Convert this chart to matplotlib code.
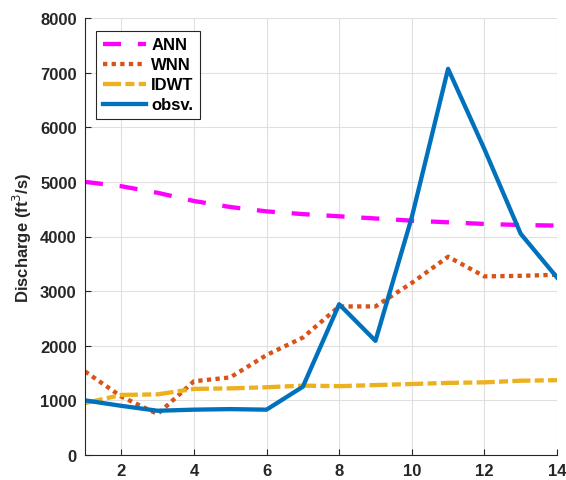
import numpy as np
import matplotlib.pyplot as plt

plt.rcParams['font.family'] = ['Liberation Sans', 'DejaVu Sans']

x = np.arange(1, 15)
ann = [5000, 4920, 4800, 4650, 4540, 4460, 4410, 4370, 4330, 4290, 4260, 4230, 4210, 4200]
wnn = [1530, 1070, 750, 1350, 1420, 1830, 2150, 2720, 2720, 3150, 3630, 3270, 3280, 3300]
idwt = [950, 1100, 1110, 1210, 1220, 1240, 1270, 1260, 1280, 1300, 1320, 1330, 1360, 1370]
obsv = [1000, 900, 810, 830, 840, 830, 1250, 2760, 2090, 4350, 7070, 5600, 4050, 3250]

fig = plt.figure(figsize=(5.66, 4.81), dpi=100)
ax = fig.add_axes([85/566, 25/481, 472/566, 437/481])

lw = 3.1
ax.plot(x, ann, color=(1, 0, 1), lw=lw, dashes=(4.2, 3.9), label='ANN')
ax.plot(x, wnn, color=(0.85, 0.325, 0.098), lw=lw, linestyle=(0, (1, 1)), label='WNN')
ax.plot(x, idwt, color=(0.929, 0.694, 0.125), lw=lw, dashes=(4.2, 1, 2.1, 1), label='IDWT')
ax.plot(x, obsv, color=(0, 0.447, 0.741), lw=lw, label='obsv.')

ax.set_xlim(1, 14)
ax.set_ylim(0, 8000)
ax.set_xticks([2, 4, 6, 8, 10, 12, 14])
ax.set_yticks(range(0, 8001, 1000))
ax.grid(True, color='0.88', lw=0.8)
ax.set_axisbelow(True)
for s in ['top', 'right']:
    ax.spines[s].set_visible(False)
for s in ['left', 'bottom']:
    ax.spines[s].set_color('0.15')
ax.tick_params(direction='in', length=4, color='0.15', labelsize=12, pad=6)
for t in ax.get_xticklabels() + ax.get_yticklabels():
    t.set_fontweight('bold')
    t.set_color('0.15')
ax.set_ylabel('Discharge (ft$^3$/s)', fontsize=12, fontweight='bold', color='0.15')

leg = ax.legend(loc='upper left', bbox_to_anchor=(0.006, 0.99),
                prop={'weight': 'bold', 'size': 12}, handlelength=2.6,
                fancybox=False, edgecolor='0.15', framealpha=1,
                borderpad=0.4, labelspacing=0.3, handletextpad=0.3)
leg.get_frame().set_linewidth(0.8)

fig.savefig('out.png', dpi=100)
